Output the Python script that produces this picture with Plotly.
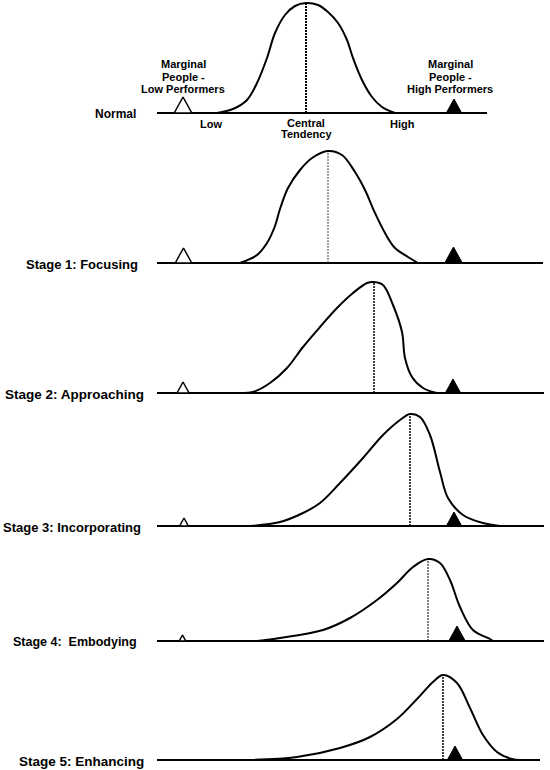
import plotly.graph_objects as go

# ---------------- data (performance score on x, relative frequency on y) ----------------
stage_names = ["Normal", "Stage 1: Focusing", "Stage 2: Approaching",
               "Stage 3: Incorporating", "Stage 4:  Embodying", "Stage 5: Enhancing"]

normal_x = [43.4, 46.6, 49.4, 51.4, 53.4, 55.0, 57.0, 59.0, 61.2, 63.6, 65.6, 67.6, 69.4, 70.6, 72.4, 74.4, 76.4, 79.0]
normal_y = [0, 4, 13, 30, 55, 80, 98, 107, 110, 108, 101, 90, 73, 55, 33, 16, 6, 0]

stage1_x = [48.0, 51.4, 53.4, 55.0, 56.0, 57.6, 60.0, 62.4, 65.6, 68.4, 71.0, 73.0, 75.0, 77.0, 79.0, 81.6, 83.6]
stage1_y = [0, 8, 20, 37, 54, 75, 93, 105, 112, 108, 91, 73, 50, 30, 15, 6, 0]

stage2_x = [48.0, 50.6, 54.0, 57.4, 60.6, 64.0, 67.4, 70.6, 73.4, 74.8, 76.6, 78.6, 80.4, 81.0, 82.4, 84.6, 87.4]
stage2_y = [0, 1, 10, 25, 46, 66, 85, 100, 110, 111, 108, 88, 61, 35, 16, 5, 0]

stage3_x = [50.0, 56.0, 60.6, 64.0, 68.0, 72.6, 76.6, 80.0, 82.0, 84.0, 86.0, 88.0, 89.6, 92.6, 96.6, 100.0]
stage3_y = [0, 4, 13, 23, 43, 68, 91, 106, 112, 109, 91, 54, 28, 11, 3, 0]

stage4_x = [51.4, 56.0, 64.6, 70.0, 75.4, 79.4, 82.6, 85.6, 88.0, 90.0, 92.0, 94.6, 98.0, 98.6]
stage4_y = [0, 3, 11, 23, 41, 58, 74, 82, 78, 61, 34, 11, 2, 0]

stage5_x = [49.4, 59.4, 68.0, 74.0, 79.4, 83.4, 86.6, 88.6, 91.4, 94.0, 96.6, 99.4, 102.4, 104.0]
stage5_y = [0, 3, 12, 23, 41, 61, 78, 85, 77, 52, 25, 8, 1, 0]

curves_x = [normal_x, stage1_x, stage2_x, stage3_x, stage4_x, stage5_x]
curves_y = [normal_y, stage1_y, stage2_y, stage3_y, stage4_y, stage5_y]

# extent of the performance scale drawn under each distribution
scale_start = [31.4, 31.4, 31.4, 31.4, 31.4, 31.4]
scale_end = [97.4, 108.6, 108.8, 108.8, 108.8, 108.0]

# marginal people: position on the scale and relative size of the group
low_marginal_x = [36.6, 36.7, 36.6, 36.8, 36.5, None]
low_marginal_size = [16, 15, 11, 8, 6, 0]
high_marginal_x = [90.8, 90.7, 90.6, 90.8, 91.4, 91.0]
high_marginal_size = [14, 16, 14, 14, 15, 14]

scale_tick_labels = ["Low", "High"]
scale_tick_pos = [42.2, 80.4]
central_label = ["Central", "Tendency"]
low_group_label = ["Marginal", "People -", "Low Performers"]
high_group_label = ["Marginal", "People -", "High Performers"]

# ---------------- layout helpers ----------------
W, H = 550, 770
baselines_px = [113, 263, 393, 526, 641, 760]
PAD = 4
FONT = "Liberation Sans, Arial, sans-serif"
label_right_px = [138, 140, 146, 143, 139, 146]
label_font = [12, 13, 13.5, 13, 12.5, 13.5]
dot_style = [("black", 2, "2px,1px"), ("#444", 1, "2px,1px"), ("black", 1.5, "2px,1px"),
             ("black", 1.5, "2px,1px"), ("black", 1, "2px,1px"), ("black", 1.5, "2px,1px")]

fig = go.Figure()
layout_axes = {}
annotations = []

for i in range(6):
    sfx = "" if i == 0 else str(i + 1)
    xa, ya = "x" + sfx, "y" + sfx
    yb = baselines_px[i]
    top_h = min(120, yb)
    layout_axes["xaxis" + sfx] = dict(range=[0, 110], domain=[0, 1], visible=False,
                                      anchor=ya, fixedrange=True)
    layout_axes["yaxis" + sfx] = dict(range=[-PAD, top_h],
                                      domain=[(H - (yb + PAD)) / H, (H - (yb - top_h)) / H],
                                      visible=False, anchor=xa, fixedrange=True)

    # baseline (performance scale)
    fig.add_trace(go.Scatter(x=[scale_start[i], scale_end[i]], y=[0, 0], mode="lines",
                             line=dict(color="black", width=2), xaxis=xa, yaxis=ya,
                             hoverinfo="skip"))
    # central tendency (dotted)
    cx, cy = curves_x[i], curves_y[i]
    k = cy.index(max(cy))
    col, lw, dash = dot_style[i]
    fig.add_trace(go.Scatter(x=[cx[k], cx[k]], y=[0, cy[k]], mode="lines",
                             line=dict(color=col, width=lw, dash=dash), xaxis=xa, yaxis=ya,
                             hoverinfo="skip"))
    # distribution curve
    fig.add_trace(go.Scatter(x=cx, y=cy, mode="lines",
                             line=dict(color="black", width=2, shape="spline", smoothing=1.0),
                             xaxis=xa, yaxis=ya, hoverinfo="skip"))
    # marginal low performers (open triangle)
    if low_marginal_x[i] is not None and low_marginal_size[i] > 0:
        c, s = low_marginal_x[i], low_marginal_size[i]
        hw = 1.1 * s / 10
        fig.add_trace(go.Scatter(x=[c - hw, c + hw, c, c - hw], y=[0, 0, s, 0], mode="lines",
                                 fill="toself", fillcolor="white",
                                 line=dict(color="black", width=1.5), xaxis=xa, yaxis=ya,
                                 hoverinfo="skip"))
    # marginal high performers (filled triangle)
    c, s = high_marginal_x[i], high_marginal_size[i]
    hw = 1.1 * s / 10
    fig.add_trace(go.Scatter(x=[c - hw, c + hw, c, c - hw], y=[0, 0, s, 0], mode="lines",
                             fill="toself", fillcolor="black",
                             line=dict(color="black", width=1), xaxis=xa, yaxis=ya,
                             hoverinfo="skip"))

    # stage label
    annotations.append(dict(text="<b>" + stage_names[i] + "</b>", xref="paper", yref="paper",
                            x=label_right_px[i] / W, y=(H - yb - 1) / H, xanchor="right",
                            yanchor="middle", showarrow=False,
                            font=dict(family=FONT, size=label_font[i], color="black")))


def ann(text, x, ypx, xref="x", size=11):
    annotations.append(dict(text="<b>" + text + "</b>", xref=xref, yref="paper", x=x,
                            y=(H - ypx) / H, xanchor="center", yanchor="middle",
                            showarrow=False, font=dict(family=FONT, size=size, color="black")))


for t, xp in zip(scale_tick_labels, scale_tick_pos):
    ann(t, xp, 124)
k0 = normal_y.index(max(normal_y))
for t, yp in zip(central_label, [123, 134]):
    ann(t, normal_x[k0], yp)
for t, yp in zip(low_group_label, [64, 77, 89]):
    ann(t, 36.6, yp)
for t, yp in zip(high_group_label, [64, 77, 89]):
    ann(t, 90.0, yp)

fig.update_layout(width=W, height=H, margin=dict(l=0, r=0, t=0, b=0),
                  paper_bgcolor="white", plot_bgcolor="rgba(0,0,0,0)",
                  showlegend=False, annotations=annotations, **layout_axes)

fig.write_html("out.html", config={"displayModeBar": False},
               post_script="document.body.style.margin='0';document.body.style.overflow='hidden';")
